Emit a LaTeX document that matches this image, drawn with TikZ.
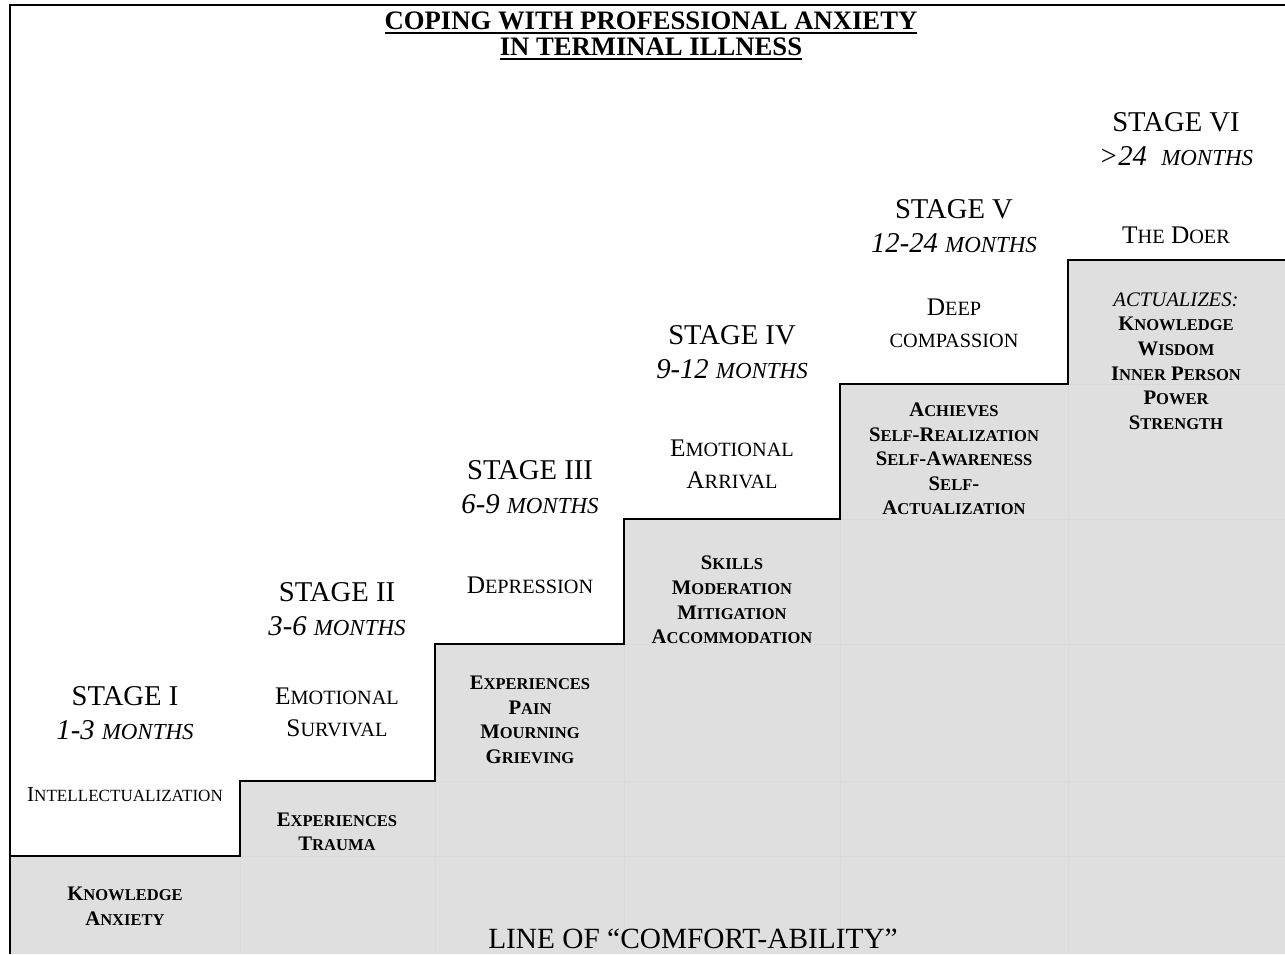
\documentclass[tikz,border=0pt]{standalone}
\usepackage{fontspec}
\setmainfont{Liberation Serif}
\usepackage{tikz}
\makeatletter
\newcommand\smc[1]{{\fontsize{\fpeval{0.8*\f@size}}{\f@baselineskip}\selectfont #1}}
\makeatother
\newcommand\thickul[1]{\setbox0\hbox{#1}\rlap{\rule[-3pt]{\wd0}{1.5pt}}\box0}
\definecolor{stepgray}{HTML}{DFDFDF}
\definecolor{gridgray}{HTML}{DADADA}

\begin{document}
\begin{tikzpicture}[x=0.75pt,y=-0.75pt,
  titletxt/.style={align=center, inner sep=0pt, font=\fontsize{20}{19.5}\selectfont\bfseries},
  stagetxt/.style={align=center, inner sep=0pt, font=\fontsize{21.5}{26}\selectfont},
  feeltxt/.style={align=center, inner sep=0pt, font=\fontsize{19}{24}\selectfont},
  greytxt/.style={align=center, inner sep=0pt, font=\fontsize{15.5}{18.4}\selectfont\bfseries},
  steprule/.style={line width=1.5pt}]
\useasboundingbox (0,0) rectangle (1285,954);
% Zona gris bajo la escalera
\fill[stepgray] (10,856) -| (240,781) -| (435,644) -| (624,519) -| (840,384) -| (1068,260)
  -- (1285,260) -- (1285,954) -- (10,954) -- cycle;
% Rejilla tenue
\begin{scope}
\clip (10,856) -| (240,781) -| (435,644) -| (624,519) -| (840,384) -| (1068,260)
  -- (1285,260) -- (1285,954) -- (10,954) -- cycle;
\foreach \x in {240,435,624,840,1068} \draw[gridgray, line width=0.6pt] (\x,0) -- (\x,954);
\foreach \y in {384,519,644,781,856} \draw[gridgray, line width=0.6pt] (0,\y) -- (1285,\y);
\end{scope}
% Marco
\draw[steprule] (10,954) -- (10,5) -- (1285,5);
% Escalera
\draw[steprule] (10,856) -| (240,781) -| (435,644) -| (624,519) -| (840,384) -| (1068,260) -- (1285,260);
% Titulo
\node[titletxt] (title) at (651,36) {\thickul{COPING WITH PROFESSIONAL ANXIETY}\\\thickul{IN TERMINAL ILLNESS}};
% Etapa I
\node[stagetxt] (s1) at (125,713) {STAGE I\\\textit{1-3 \smc{MONTHS}}};
\node[inner sep=0pt, font=\fontsize{16}{19}\selectfont] (f1) at (125,795) {I\smc{NTELLECTUALIZATION}};
\node[greytxt] (g1) at (125,906) {K\smc{NOWLEDGE}\\A\smc{NXIETY}};
% Etapa II
\node[stagetxt] (s2) at (337,609) {STAGE II\\\textit{3-6 \smc{MONTHS}}};
\node[feeltxt] (f2) at (337,712) {E\smc{MOTIONAL}\\S\smc{URVIVAL}};
\node[greytxt] (g2) at (337,832) {E\smc{XPERIENCES}\\T\smc{RAUMA}};
% Etapa III
\node[stagetxt] (s3) at (530,487) {STAGE III\\\textit{6-9 \smc{MONTHS}}};
\node[feeltxt] (f3) at (530,585) {D\smc{EPRESSION}};
\node[greytxt] (g3) at (530,720) {E\smc{XPERIENCES}\\P\smc{AIN}\\M\smc{OURNING}\\G\smc{RIEVING}};
% Etapa IV
\node[stagetxt] (s4) at (732,352) {STAGE IV\\\textit{9-12 \smc{MONTHS}}};
\node[feeltxt] (f4) at (732,464) {E\smc{MOTIONAL}\\A\smc{RRIVAL}};
\node[greytxt] (g4) at (732,600) {S\smc{KILLS}\\M\smc{ODERATION}\\M\smc{ITIGATION}\\A\smc{CCOMMODATION}};
% Etapa V
\node[stagetxt] (s5) at (954,226) {STAGE V\\\textit{12-24 \smc{MONTHS}}};
\node[feeltxt] (f5) at (954,323) {D\smc{EEP}\\\smc{COMPASSION}};
\node[greytxt] (g5) at (954,459) {A\smc{CHIEVES}\\S\smc{ELF}-R\smc{EALIZATION}\\S\smc{ELF}-A\smc{WARENESS}\\S\smc{ELF}-\\A\smc{CTUALIZATION}};
% Etapa VI
\node[stagetxt] (s6) at (1176,139) {STAGE VI\\\textit{>24\enspace\smc{MONTHS}}};
\node[feeltxt] (f6) at (1176,235) {T\smc{HE} D\smc{OER}};
\node[greytxt] (g6) at (1176,361) {{\mdseries\itshape ACTUALIZES:}\\K\smc{NOWLEDGE}\\W\smc{ISDOM}\\I\smc{NNER} P\smc{ERSON}\\P\smc{OWER}\\S\smc{TRENGTH}};
% Linea de base
\node[inner sep=0pt, anchor=base, font=\fontsize{22}{26}\selectfont] (comfort) at (693,948) {LINE OF “COMFORT-ABILITY”};
\end{tikzpicture}
\end{document}
